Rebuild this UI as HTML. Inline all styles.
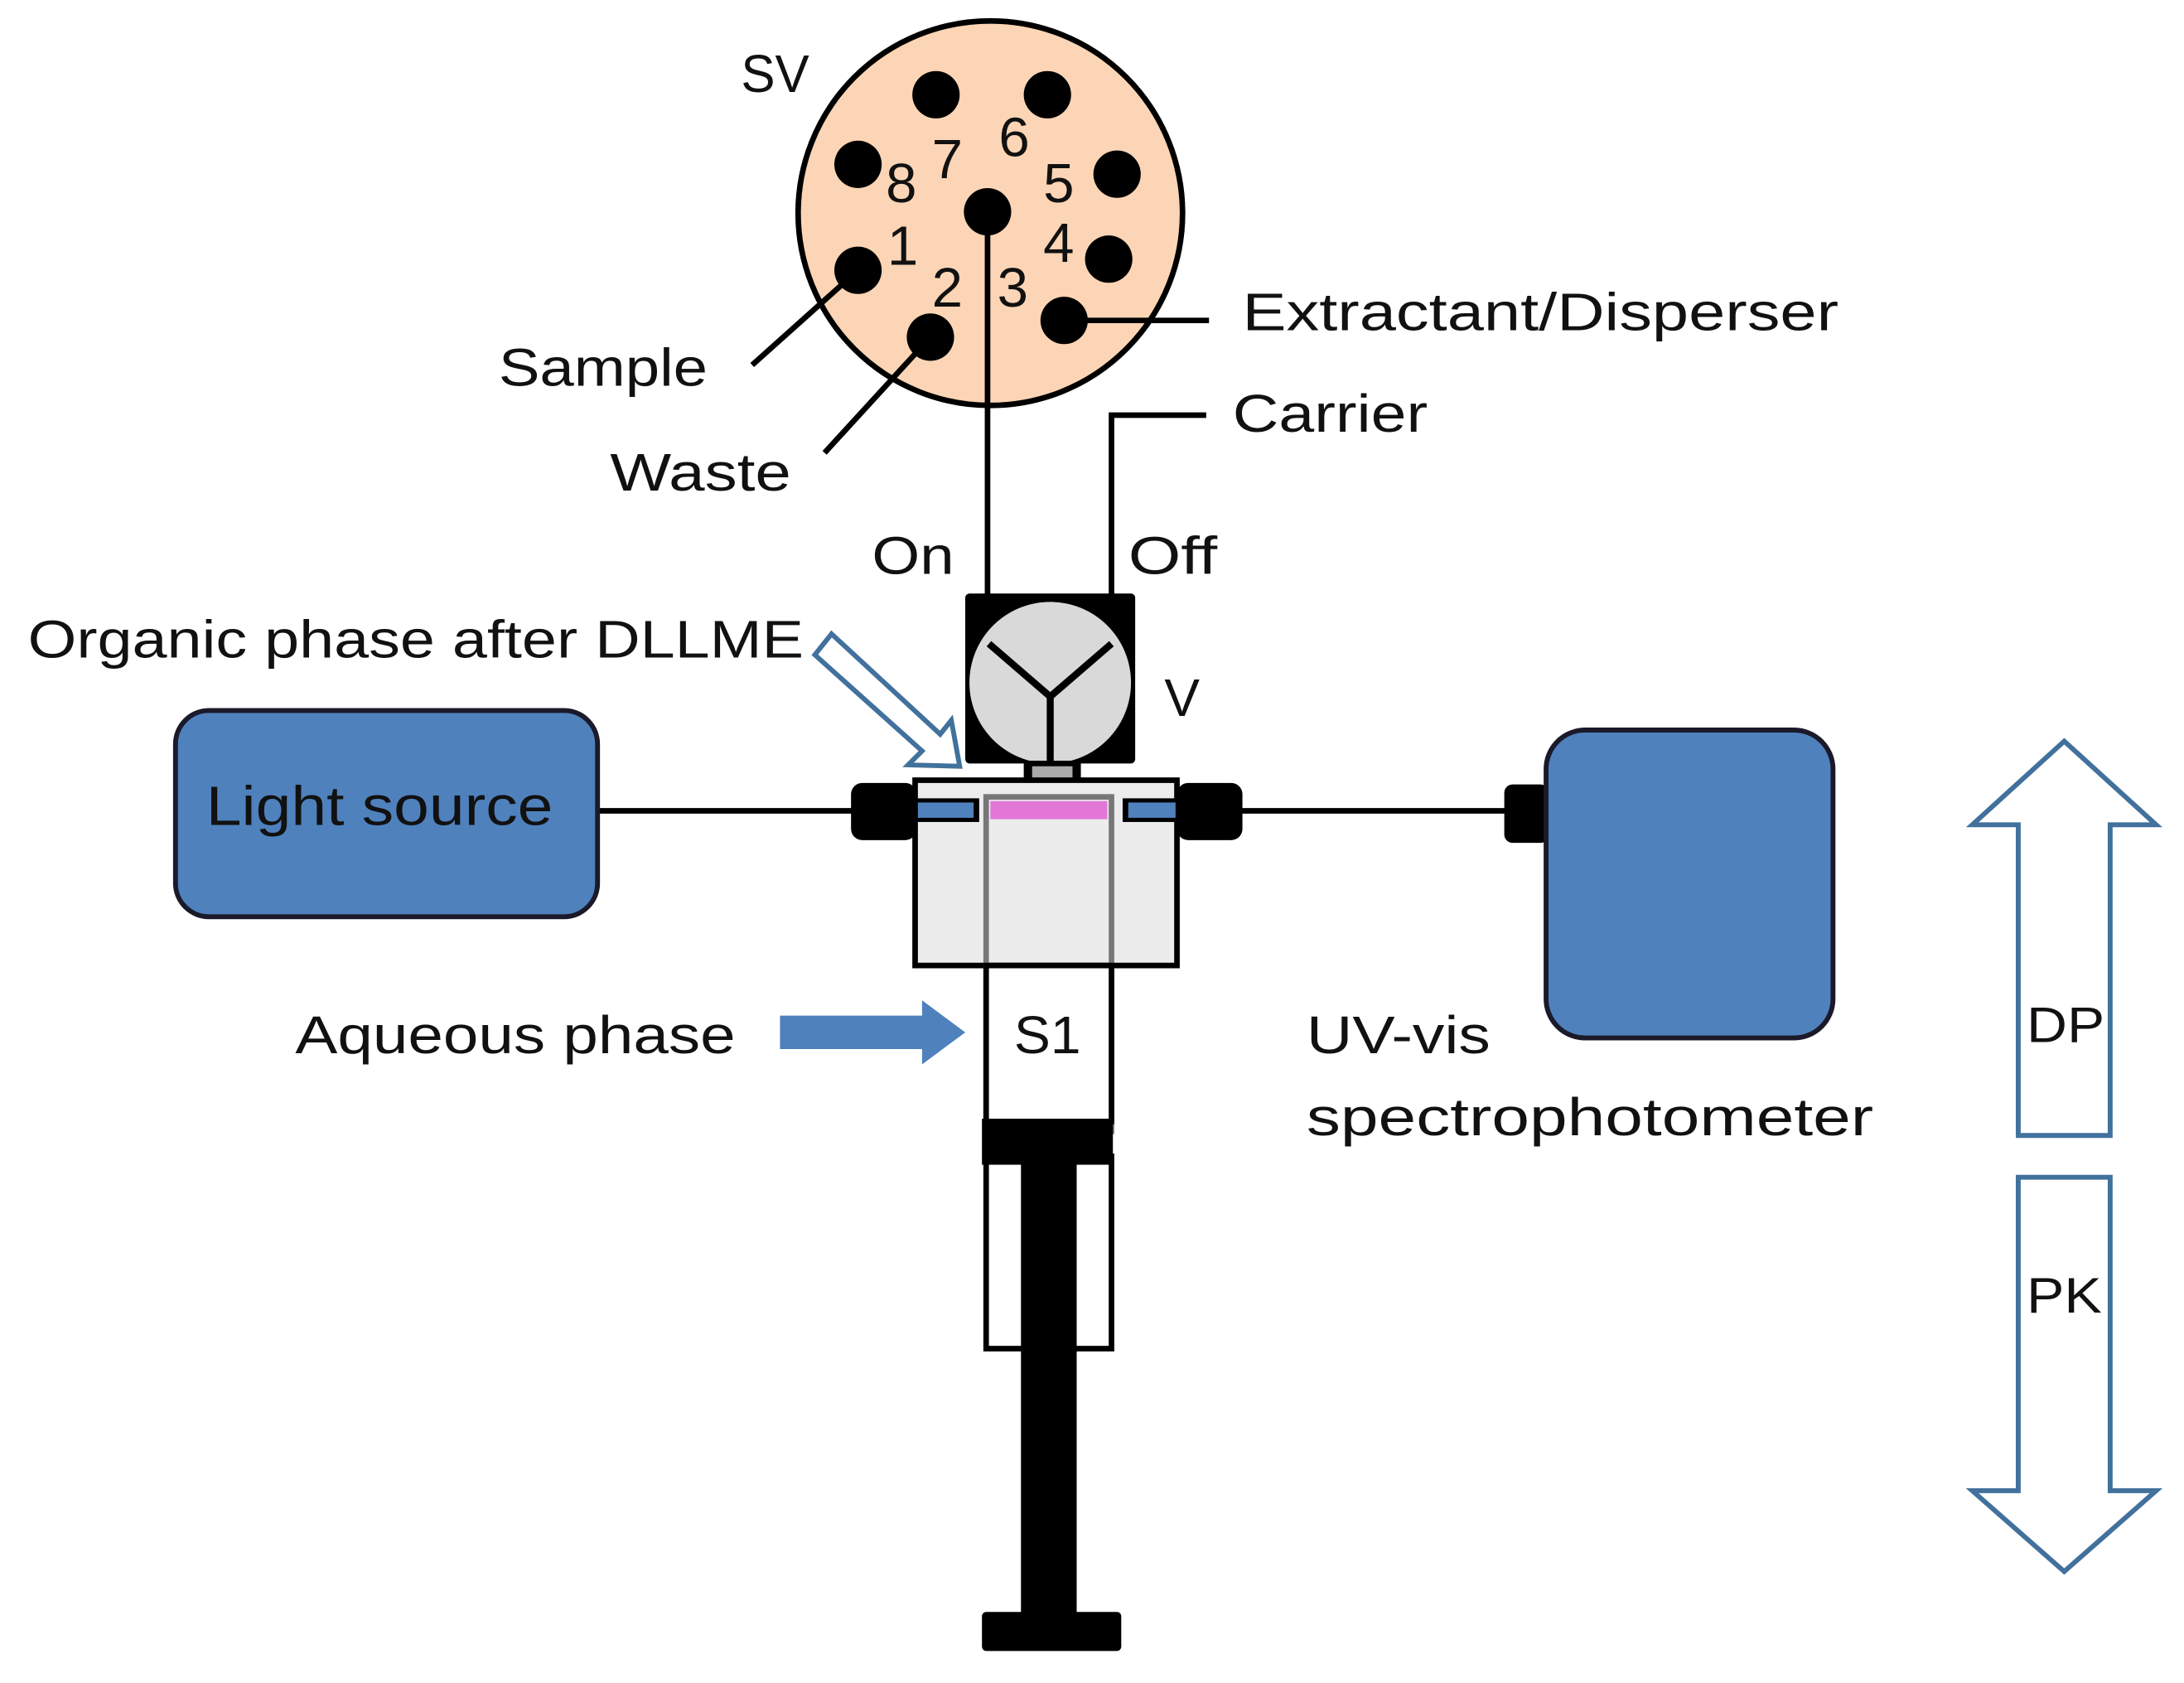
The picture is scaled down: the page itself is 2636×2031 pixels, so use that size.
<!DOCTYPE html>
<html><head><style>html,body{margin:0;padding:0;background:#fff}svg{display:block}</style></head>
<body>
<svg width="2636" height="2031" viewBox="0 0 1568 1208" preserveAspectRatio="none" xmlns="http://www.w3.org/2000/svg" font-family="'Liberation Sans', sans-serif" fill="#111">
<!-- SV valve -->
<circle cx="711" cy="153" r="138" fill="#fbd5b5" stroke="#000" stroke-width="4"/>
<g fill="#000">
<circle cx="672" cy="68" r="17"/><circle cx="752" cy="68" r="17"/>
<circle cx="616" cy="118" r="17"/><circle cx="802" cy="125" r="17"/>
<circle cx="709" cy="152" r="17"/><circle cx="796" cy="186" r="17"/>
<circle cx="616" cy="194" r="17"/><circle cx="668" cy="242" r="17"/>
<circle cx="764" cy="230" r="17"/>
</g>
<g font-size="40">
<text x="636" y="145">8</text><text x="669" y="128">7</text><text x="717" y="112">6</text><text x="749" y="145">5</text>
<text x="637" y="190">1</text><text x="749" y="188">4</text><text x="669" y="220">2</text><text x="716" y="220">3</text>
</g>
<g stroke="#000" stroke-width="4" fill="none">
<line x1="540" y1="262" x2="616" y2="194"/>
<line x1="592" y1="325" x2="668" y2="242"/>
<line x1="764" y1="230" x2="868" y2="230"/>
<line x1="709" y1="152" x2="709" y2="430"/>
<polyline points="798,430 798,298 866,298"/>
<line x1="430" y1="582" x2="612" y2="582"/>
<line x1="890" y1="582" x2="1082" y2="582"/>
</g>
<g font-size="38">
<text x="532" y="66" textLength="49" lengthAdjust="spacingAndGlyphs">SV</text>
<text x="892" y="237" textLength="428" lengthAdjust="spacingAndGlyphs">Extractant/Disperser</text>
<text x="885" y="310" textLength="140" lengthAdjust="spacingAndGlyphs">Carrier</text>
<text x="358" y="277" textLength="150" lengthAdjust="spacingAndGlyphs">Sample</text>
<text x="438" y="352" textLength="130" lengthAdjust="spacingAndGlyphs">Waste</text>
<text x="626" y="412" textLength="59" lengthAdjust="spacingAndGlyphs">On</text>
<text x="810" y="412" textLength="64" lengthAdjust="spacingAndGlyphs">Off</text>
<text x="20" y="472" textLength="557" lengthAdjust="spacingAndGlyphs">Organic phase after DLLME</text>
<text x="836" y="514">V</text>
<text x="212" y="756" textLength="316" lengthAdjust="spacingAndGlyphs">Aqueous phase</text>
<text x="938" y="756" textLength="132" lengthAdjust="spacingAndGlyphs">UV-vis</text>
<text x="938" y="815" textLength="407" lengthAdjust="spacingAndGlyphs">spectrophotometer</text>
</g>
<!-- valve V -->
<rect x="693" y="426" width="122" height="122" rx="3" fill="#000"/>
<circle cx="754" cy="490" r="58" fill="#d9d9d9"/>
<g stroke="#000" stroke-width="5"><line x1="754" y1="500" x2="754" y2="548"/><line x1="754" y1="500" x2="710" y2="462"/><line x1="754" y1="500" x2="798" y2="462"/></g>
<rect x="735" y="546" width="41" height="26" fill="#000"/>
<rect x="741" y="550" width="29" height="20" fill="#aaa"/>
<!-- cell -->
<rect x="657" y="560" width="188" height="133" fill="#ececec" stroke="#000" stroke-width="4"/>
<rect x="657" y="573" width="46" height="17" fill="#000"/><rect x="659" y="576" width="40" height="11" fill="#4f81bd"/>
<rect x="806" y="573" width="40" height="17" fill="#000"/><rect x="810" y="576" width="34" height="11" fill="#4f81bd"/>
<rect x="708" y="572" width="90" height="240" fill="none" stroke="#777" stroke-width="4"/>
<rect x="711" y="575" width="84" height="13" fill="#e377d8"/>
<rect x="611" y="562" width="47" height="41" rx="8" fill="#000"/>
<rect x="845" y="562" width="47" height="41" rx="8" fill="#000"/>
<!-- light source -->
<rect x="126" y="510" width="303" height="148" rx="24" fill="#4f81bd" stroke="#1a1a2a" stroke-width="3.5"/>
<text x="148" y="592" font-size="40" textLength="249" lengthAdjust="spacingAndGlyphs">Light source</text>
<!-- UV -->
<rect x="1080" y="563" width="32" height="42" rx="6" fill="#000"/>
<rect x="1110" y="524" width="206" height="221" rx="28" fill="#4f81bd" stroke="#1a1a2a" stroke-width="3.5"/>
<!-- syringe -->
<rect x="708" y="693" width="90" height="112" fill="#fff" stroke="#000" stroke-width="4"/>
<rect x="708" y="830" width="90" height="138" fill="#fff" stroke="#000" stroke-width="4"/>
<rect x="705" y="803" width="94" height="33" fill="#000"/>
<rect x="733" y="803" width="40" height="360" fill="#000"/>
<rect x="705" y="1157" width="100" height="28" rx="3" fill="#000"/>
<text x="728" y="756" font-size="38" textLength="48" lengthAdjust="spacingAndGlyphs">S1</text>
<!-- aqueous arrow -->
<polygon points="560,729 662,729 662,718 693,741 662,764 662,753 560,753" fill="#4f81bd"/>
<!-- organic hollow arrow -->
<polygon points="585,470 597,455 675,527 683,517 689,550 652,549 662,539" fill="#fff" stroke="#41719c" stroke-width="3.5"/>
<!-- DP / PK -->
<polygon points="1482,532 1548,592 1515,592 1515,815 1449,815 1449,592 1416,592" fill="#fff" stroke="#41719c" stroke-width="3.5"/>
<polygon points="1449,845 1515,845 1515,1070 1548,1070 1482,1128 1416,1070 1449,1070" fill="#fff" stroke="#41719c" stroke-width="3.5"/>
<text x="1455" y="748" font-size="36" textLength="56" lengthAdjust="spacingAndGlyphs">DP</text>
<text x="1455" y="942" font-size="36" textLength="54" lengthAdjust="spacingAndGlyphs">PK</text>
</svg>
</body></html>
